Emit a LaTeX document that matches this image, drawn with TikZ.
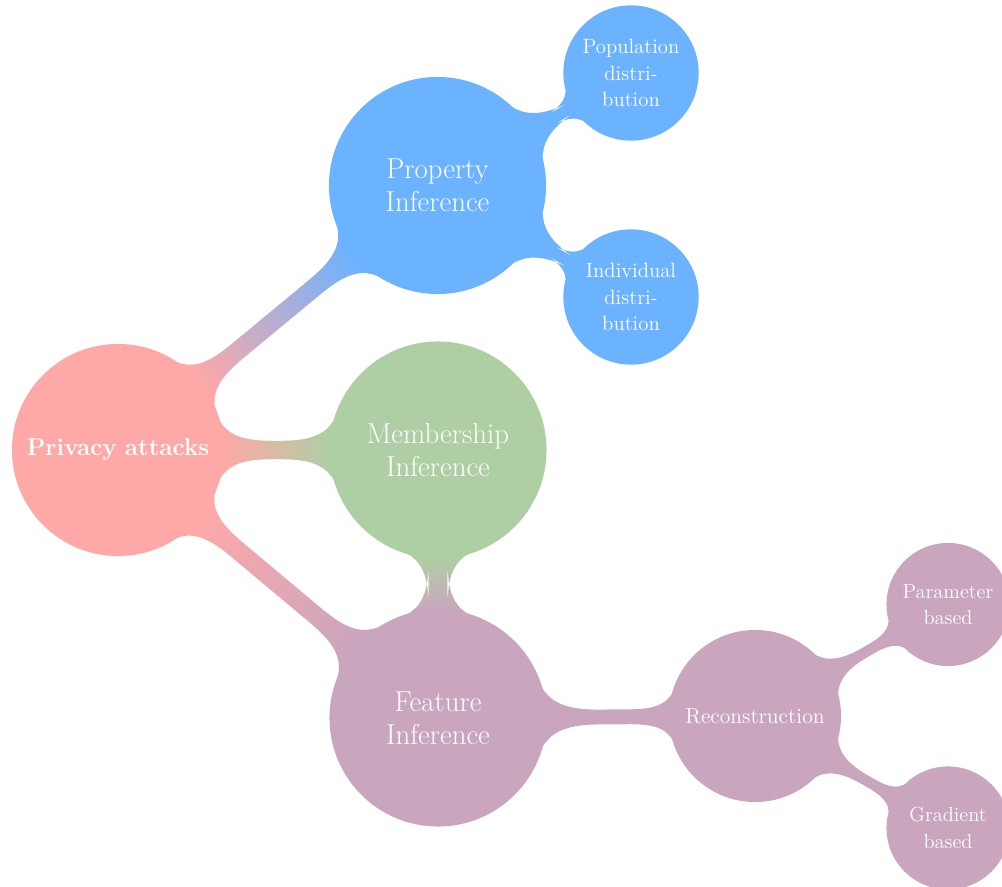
\documentclass[tikz,border=0pt]{standalone}
\usetikzlibrary{mindmap}

\definecolor{rootpink}{RGB}{255,168,168}
\definecolor{propblue}{RGB}{107,179,255}
\definecolor{membgreen}{RGB}{174,207,163}
\definecolor{featpurple}{RGB}{201,166,190}

\tikzset{
  rootidea/.style={concept, concept color=rootpink, text=white, inner sep=0pt,
    minimum size=4.2cm, text width=3.9cm, font=\bfseries\fontsize{13.8}{16}\selectfont},
  mainidea/.style={concept, text=white, inner sep=0pt,
    minimum size=4.3cm, text width=3.6cm, font=\fontsize{16.4}{19}\selectfont},
  subidea/.style={concept, text=white, inner sep=0pt,
    minimum size=2.64cm, text width=2.3cm, font=\fontsize{11.8}{15}\selectfont},
  reconidea/.style={concept, text=white, inner sep=0pt,
    minimum size=3.4cm, text width=3.2cm, font=\fontsize{12.3}{15}\selectfont},
  leafidea/.style={concept, text=white, inner sep=0pt,
    minimum size=2.42cm, text width=2.2cm, font=\fontsize{11.6}{15}\selectfont}
}

\begin{document}
\begin{tikzpicture}[mindmap]
  \useasboundingbox (0,0) rectangle (20.04,17.72);

  \node[rootidea] (root) at (2.36,8.72) {Privacy attacks};
  \node[mainidea, concept color=propblue] (prop) at (8.75,14.01) {Property\\Inference};
  \node[mainidea, concept color=membgreen] (memb) at (8.76,8.72) {Membership\\Inference};
  \node[mainidea, concept color=featpurple] (feat) at (8.76,3.36) {Feature\\Inference};

  \node[subidea, concept color=propblue] (pop) at (12.62,16.26) {Population\\distri-\\bution};
  \node[subidea, concept color=propblue] (ind) at (12.62,11.78) {Individual\\distri-\\bution};

  \node[reconidea, concept color=featpurple] (recon) at (15.1,3.4) {Reconstruction};
  \node[leafidea, concept color=featpurple] (param) at (18.96,5.63) {Parameter\\based};
  \node[leafidea, concept color=featpurple] (grad) at (18.96,1.16) {Gradient\\based};

  % connection bars
  \path[line width=0.36cm] (root) to[circle connection bar switch color=from (rootpink) to (propblue)] (prop);
  \path[line width=0.38cm] (root) to[circle connection bar switch color=from (rootpink) to (membgreen)] (memb);
  \path[line width=0.36cm] (root) to[circle connection bar switch color=from (rootpink) to (featpurple)] (feat);
  \path[line width=0.36cm] (memb) to[circle connection bar switch color=from (membgreen) to (featpurple)] (feat);
  \path[line width=0.22cm] (prop) to[circle connection bar switch color=from (propblue) to (propblue)] (pop);
  \path[line width=0.22cm] (prop) to[circle connection bar switch color=from (propblue) to (propblue)] (ind);
  \path[line width=0.3cm] (feat) to[circle connection bar switch color=from (featpurple) to (featpurple)] (recon);
  \path[line width=0.2cm] (recon) to[circle connection bar switch color=from (featpurple) to (featpurple)] (param);
  \path[line width=0.2cm] (recon) to[circle connection bar switch color=from (featpurple) to (featpurple)] (grad);
\end{tikzpicture}
\end{document}
